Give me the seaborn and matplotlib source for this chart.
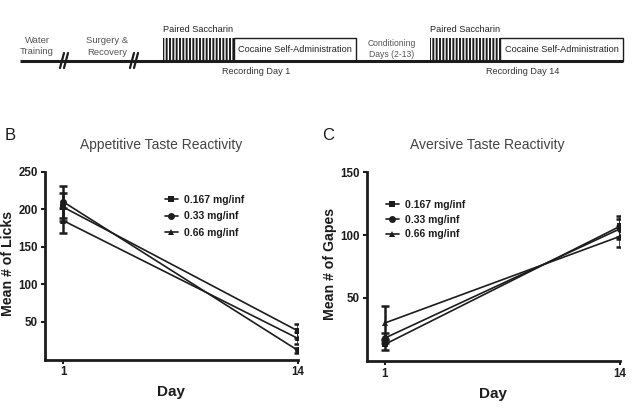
import matplotlib
matplotlib.use("Agg")
import matplotlib.pyplot as plt
from matplotlib.patches import Rectangle
from matplotlib.lines import Line2D
import seaborn as sns
import pandas as pd

# ---------------- data ----------------
days = [1, 14]
doses = ["0.167 mg/inf", "0.33 mg/inf", "0.66 mg/inf"]
markers = ["s", "o", "^"]

licks_0167 = [203, 38]
licks_033 = [210, 12]
licks_066 = [185, 28]
licks_err_0167 = [19, 9]
licks_err_033 = [21, 3]
licks_err_066 = [17, 8]

gapes_0167 = [13, 107]
gapes_033 = [18, 105]
gapes_066 = [30, 99]
gapes_err_0167 = [4.5, 8.5]
gapes_err_033 = [4, 8]
gapes_err_066 = [13.4, 8.5]

licks_yticks = [50, 100, 150, 200, 250]
gapes_yticks = [50, 100, 150]

# ---------------- style ----------------
sns.set_style("ticks")
plt.rcParams["font.family"] = ["Liberation Sans", "DejaVu Sans"]
plt.rcParams["hatch.linewidth"] = 1.0
DARK = "#1c1c1c"

W, H = 633, 408
fig = plt.figure(figsize=(6.33, 4.08), dpi=100)

# overlay axes in pixel units for the schematic timeline & annotations
ov = fig.add_axes([0, 0, 1, 1])
ov.set_xlim(0, W)
ov.set_ylim(H, 0)
ov.axis("off")

# baseline
ov.plot([20, 623], [61, 61], color=DARK, lw=2.2, solid_capstyle="butt")
for bx in (65, 135):
    ov.plot([bx - 5, bx - 1], [68, 53], color=DARK, lw=1.6)
    ov.plot([bx - 1, bx + 3], [68, 53], color=DARK, lw=1.6)
ov.text(37, 46, "Water\nTraining", ha="center", va="center", fontsize=6.8,
        color="#555555", linespacing=1.3)
ov.text(107, 46.5, "Surgery &\nRecovery", ha="center", va="center", fontsize=6.8,
        color="#555555", linespacing=1.3)
ov.text(392, 49, "Conditioning\nDays (2-13)", ha="center", va="center", fontsize=6.2,
        color="#555555", linespacing=1.25)
for (x0, x1, x2, rec) in [(163, 234, 356, "Recording Day 1"),
                          (430, 500, 623, "Recording Day 14")]:
    ov.add_patch(Rectangle((x0, 38), x1 - x0, 23, facecolor=DARK, edgecolor="white",
                           hatch="|||||", lw=0))
    ov.add_patch(Rectangle((x1, 38), x2 - x1, 23, facecolor="white", edgecolor=DARK, lw=1))
    ov.text((x0 + x1) / 2, 29, "Paired Saccharin", ha="center", va="center",
            fontsize=6.6, color="#222222")
    ov.text((x1 + x2) / 2, 50, "Cocaine Self-Administration", ha="center", va="center",
            fontsize=6.6, color="#222222")
    ov.text((x1 + x0) / 2 + 58, 72, rec, ha="center", va="center",
            fontsize=6.6, color="#333333")

ov.text(10, 135, "B", ha="center", va="center", fontsize=12, color=DARK)
ov.text(328, 135, "C", ha="center", va="center", fontsize=12, color=DARK)
ov.text(161, 145, "Appetitive Taste Reactivity", ha="center", va="center",
        fontsize=10, color="#444444")
ov.text(487, 145, "Aversive Taste Reactivity", ha="center", va="center",
        fontsize=10, color="#444444")


def panel(rect, series, errs, ylim, yticks, ylabel, ylab_xy, leg_anchor, labelspacing):
    ax = fig.add_axes(rect)
    rows = []
    for dose, vals in zip(doses, series):
        for d, v in zip(days, vals):
            rows.append({"Day": d, "value": v, "dose": dose})
    df = pd.DataFrame(rows)
    sns.lineplot(data=df, x="Day", y="value", hue="dose", style="dose",
                 markers=markers, dashes=False, palette=[DARK] * 3,
                 markersize=5, linewidth=1.2, markeredgewidth=0, ax=ax, legend=False)
    for vals, e in zip(series, errs):
        ax.errorbar(days, vals, yerr=e, fmt="none", ecolor=DARK, elinewidth=1.8,
                    capsize=3, capthick=1.8)
    ax.set_xlim(0, 14)
    ax.set_ylim(*ylim)
    ax.set_xticks(days)
    ax.set_yticks(yticks)
    ax.set_xlabel("Day", fontsize=11, fontweight="bold", color=DARK, labelpad=5)
    ax.set_ylabel(ylabel, fontsize=10.2, fontweight="bold", color=DARK)
    ax.yaxis.set_label_coords(*ylab_xy)
    for lab in ax.get_xticklabels() + ax.get_yticklabels():
        lab.set_fontweight("bold")
    ax.tick_params(axis="both", labelsize=8.3, colors=DARK, width=1.5, length=3,
                   pad=2, direction="out")
    for s in ("top", "right"):
        ax.spines[s].set_visible(False)
    for s in ("left", "bottom"):
        ax.spines[s].set_linewidth(2)
        ax.spines[s].set_color(DARK)
    handles = [Line2D([0], [0], color=DARK, lw=1.2, marker=m, markersize=5,
                      markeredgewidth=0) for m in markers]
    leg = ax.legend(handles, doses, loc="upper left", bbox_to_anchor=leg_anchor,
                    bbox_transform=fig.transFigure, frameon=False, borderpad=0,
                    borderaxespad=0, handlelength=1.2, handletextpad=0.6,
                    labelspacing=labelspacing,
                    prop={"size": 7.5, "weight": "bold"})
    for t in leg.get_texts():
        t.set_color(DARK)
    return ax


panel([45 / W, 1 - 359.5 / H, 253 / W, (359.5 - 171.7) / H],
      [licks_0167, licks_033, licks_066],
      [licks_err_0167, licks_err_033, licks_err_066],
      (0, 250), licks_yticks, "Mean # of Licks", (-0.118, 0.514),
      (165 / W, 1 - 195 / H), 0.6)

panel([366.7 / W, 1 - 360.7 / H, 253.3 / W, (360.7 - 172.3) / H],
      [gapes_0167, gapes_033, gapes_066],
      [gapes_err_0167, gapes_err_033, gapes_err_066],
      (0, 150), gapes_yticks, "Mean # of Gapes", (-0.117, 0.513),
      (386 / W, 1 - 200 / H), 0.45)

fig.savefig("out.png", dpi=100)
